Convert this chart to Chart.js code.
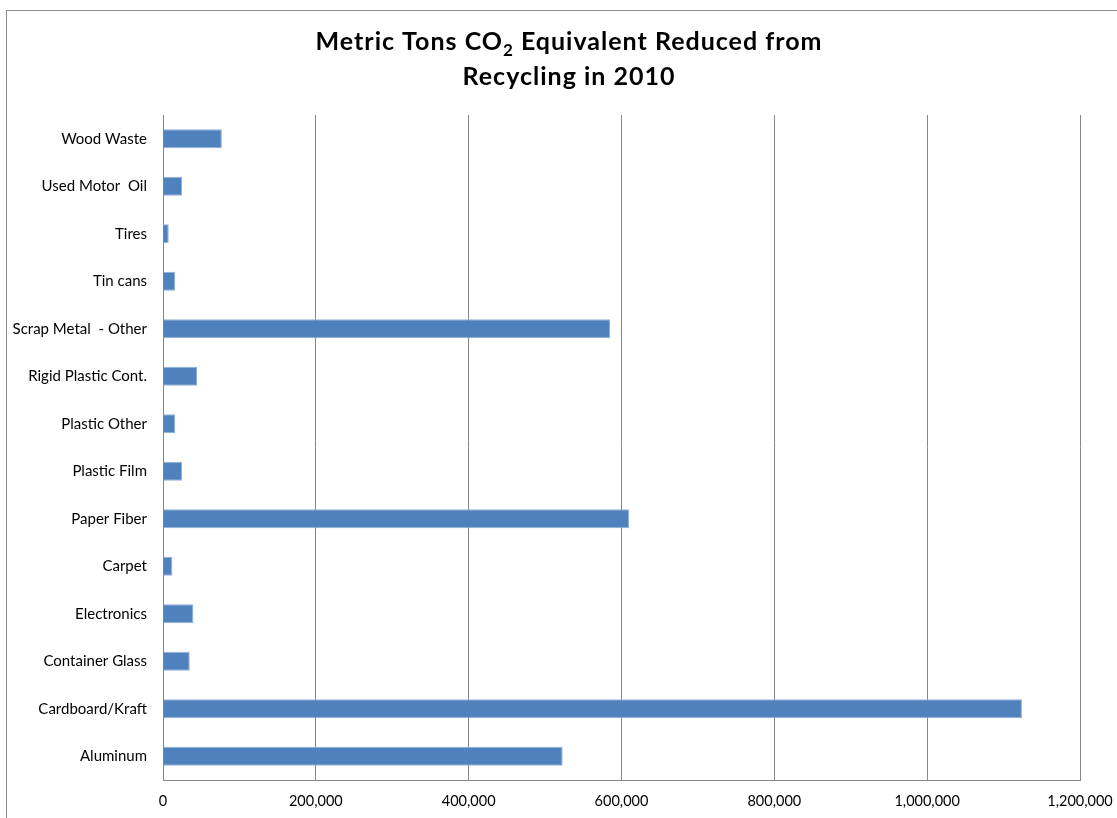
<!DOCTYPE html>
<html>
<head>
<meta charset="utf-8">
<title>CO2 Reduced from Recycling</title>
<script src="https://cdn.jsdelivr.net/npm/chart.js@4"></script>
<style>
  html, body { margin: 0; padding: 0; background: #fff; }
  #frame {
    position: absolute; left: 6px; top: 10px;
    width: 1130px; height: 830px;
    border: 1px solid #8c8c8c;
  }
  #wrap { position: absolute; left: 0; top: 0; width: 1117px; height: 818px; }
</style>
</head>
<body>
<div id="frame"></div>
<div id="wrap"><canvas id="co2Chart" width="1117" height="818"></canvas></div>
<script>
// Materials, listed top to bottom as they appear on the axis
const materials = [
    'Wood Waste', 'Used Motor  Oil', 'Tires', 'Tin cans', 'Scrap Metal  - Other',
    'Rigid Plastic Cont.', 'Plastic Other', 'Plastic Film', 'Paper Fiber', 'Carpet',
    'Electronics', 'Container Glass', 'Cardboard/Kraft', 'Aluminum'
];
// Metric tons CO2 equivalent reduced, 2010
const tonsReduced = [
    77000, 25000, 7500, 15700, 585000,
    44500, 15700, 25000, 610000, 12300,
    39800, 35000, 1124000, 523000
];
const axisMax = 1200000;
const axisStep = 200000;

const font = "Lato, 'Open Sans', sans-serif";

// Two-line title with a real subscript in "CO2"
const titlePlugin = {
    id: 'co2Title',
    afterDraw(chart) {
        const c = chart.ctx;
        const cx = 569;
        const big = 'bold 25px ' + font;
        const small = 'bold 17px ' + font;
        c.save();
        c.fillStyle = '#000';
        c.textBaseline = 'alphabetic';
        c.textAlign = 'left';
        c.letterSpacing = '1px';

        const parts = [
            { t: 'Metric Tons CO', f: big, dy: 0 },
            { t: '2', f: small, dy: 6 },
            { t: ' Equivalent Reduced from', f: big, dy: 0 }
        ];
        let w = 0;
        parts.forEach(p => { c.font = p.f; p.w = c.measureText(p.t).width; w += p.w; });
        let x = cx - w / 2;
        parts.forEach(p => { c.font = p.f; c.fillText(p.t, x, 50 + p.dy); x += p.w; });

        c.font = big;
        const line2 = 'Recycling in 2010';
        const w2 = c.measureText(line2).width;
        c.fillText(line2, cx - w2 / 2, 85);
        c.restore();
    }
};

document.addEventListener('DOMContentLoaded', function() {
    const ctx = document.getElementById('co2Chart').getContext('2d');
    new Chart(ctx, {
        type: 'bar',
        data: {
            labels: materials,
            datasets: [{
                label: 'Metric Tons CO2 Equivalent',
                data: tonsReduced,
                backgroundColor: '#4F81BD',
                borderColor: '#8fb0d8',
                borderWidth: 1,
                borderSkipped: 'start',
                categoryPercentage: 1.0,
                barPercentage: 0.4
            }]
        },
        plugins: [titlePlugin],
        options: {
            indexAxis: 'y',
            responsive: false,
            animation: false,
            layout: { padding: { left: 0, right: 37, top: 115, bottom: 0 } },
            plugins: {
                legend: { display: false },
                tooltip: { enabled: false },
                title: { display: false }
            },
            scales: {
                x: {
                    min: 0,
                    max: axisMax,
                    ticks: {
                        stepSize: axisStep,
                        padding: 13,
                        color: '#000',
                        font: { family: font, size: 14.5 },
                        callback: v => v.toLocaleString('en-US')
                    },
                    grid: { color: '#868686', lineWidth: 1, drawTicks: false },
                    border: { color: '#868686', width: 1 },
                    afterFit: s => { s.height = 38; s.paddingLeft = 0; s.paddingRight = 0; }
                },
                y: {
                    ticks: {
                        padding: 16,
                        color: '#000',
                        font: { family: font, size: 15 }
                    },
                    grid: { display: false, drawTicks: false },
                    border: { display: true, color: '#868686', width: 1 },
                    afterFit: s => { s.width = 163; s.paddingTop = 0; s.paddingBottom = 0; }
                }
            }
        }
    });
});
</script>
</body>
</html>
